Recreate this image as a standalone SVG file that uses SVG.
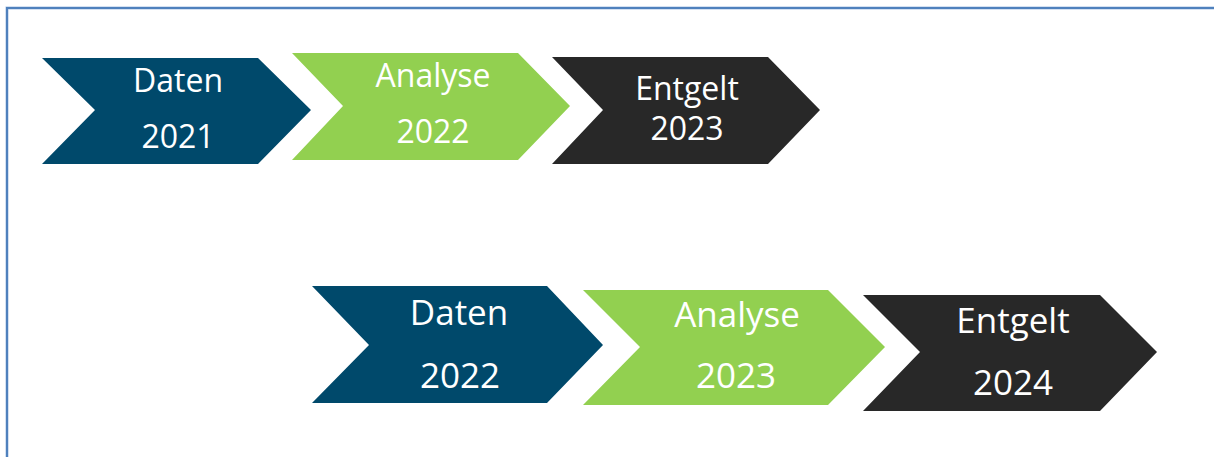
<svg xmlns="http://www.w3.org/2000/svg" width="1214" height="457" viewBox="0 0 1214 457">
<style>
.t{font-family:"Open Sans","Lato","DejaVu Sans",sans-serif;fill:#ffffff;text-anchor:middle}
.r1{font-size:32px}
.r2{font-size:35px}
.blue{fill:#00496b}
.green{fill:#92d050}
.dark{fill:#282828}
</style>
<rect width="1214" height="457" fill="#ffffff"/>
<path d="M7 460 V8 H1220" fill="none" stroke="#a9c4e6" stroke-width="3"/>
<path d="M7 460 V8 H1220" fill="none" stroke="#4f81bd" stroke-width="2"/>
<g id="daten2021">
<polygon class="blue" points="42,58 258,58 311,110 258,164 42,164 95,110"/>
<text class="t r1" x="178" y="92">Daten</text>
<text class="t r1" x="178" y="148">2021</text>
</g>
<g id="analyse2022">
<polygon class="green" points="292,53 518,53 570,106 518,160 292,160 343,106"/>
<text class="t r1" x="433" y="87">Analyse</text>
<text class="t r1" x="433" y="143">2022</text>
</g>
<g id="entgelt2023">
<polygon class="dark" points="552,57 768,57 820,110 768,164 552,164 603,110"/>
<text class="t r1" x="687" y="100">Entgelt</text>
<text class="t r1" x="687" y="140">2023</text>
</g>
<g id="daten2022">
<polygon class="blue" points="312,286 547,286 603,345 547,403 312,403 369,345"/>
<text class="t r2" x="459" y="325">Daten</text>
<text class="t r2" x="460" y="388">2022</text>
</g>
<g id="analyse2023">
<polygon class="green" points="583,290 828,290 885,347 828,405 583,405 640,347"/>
<text class="t r2" x="737" y="327">Analyse</text>
<text class="t r2" x="736" y="388">2023</text>
</g>
<g id="entgelt2024">
<polygon class="dark" points="863,295 1100,295 1157,352 1100,411 863,411 920,352"/>
<text class="t r2" x="1013" y="333">Entgelt</text>
<text class="t r2" x="1013" y="395">2024</text>
</g>
<g id="connectors"></g>
</svg>
